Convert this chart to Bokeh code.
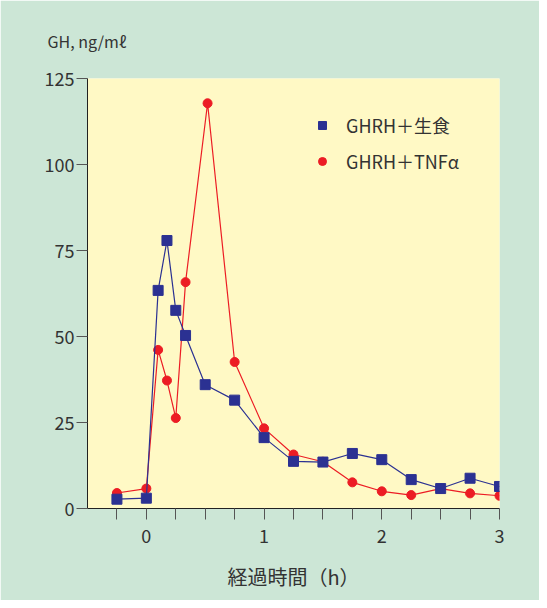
from bokeh.plotting import figure
from bokeh.models import FixedTicker, Legend, LegendItem, ColumnDataSource
from bokeh.embed import file_html
from bokeh.resources import INLINE

# Data (hours, GH ng/ml)
t_saline = [-0.25, 0, 0.1, 0.175, 0.25, 0.333, 0.5, 0.75, 1.0, 1.25, 1.5, 1.75, 2.0, 2.25, 2.5, 2.75, 3.0]
gh_saline = [2.7, 3.0, 63.4, 77.9, 57.6, 50.3, 36.0, 31.5, 20.6, 13.7, 13.5, 16.0, 14.2, 8.4, 5.8, 8.8, 6.4]
t_tnf = [-0.25, 0, 0.1, 0.175, 0.25, 0.333, 0.52, 0.75, 1.0, 1.25, 1.5, 1.75, 2.0, 2.25, 2.5, 2.75, 3.0]
gh_tnf = [4.5, 5.8, 46.1, 37.2, 26.3, 65.8, 117.8, 42.6, 23.3, 15.7, 13.6, 7.6, 5.0, 3.9, 5.8, 4.4, 3.7]

x_ticks = [-0.25, 0, 0.25, 0.5, 0.75, 1, 1.25, 1.5, 1.75, 2, 2.25, 2.5, 2.75, 3]
x_tick_labels = {-0.25: "", 0: "0", 0.25: "", 0.5: "", 0.75: "", 1: "1", 1.25: "", 1.5: "",
                 1.75: "", 2: "2", 2.25: "", 2.5: "", 2.75: "", 3: "3"}
y_ticks = [0, 25, 50, 75, 100, 125]

series_names = ["GHRH＋生食", "GHRH＋TNFα"]

BLUE = "#2b3192"
RED = "#ec1c24"
GREEN = "#cce6d6"
YELLOW = "#fff9c5"
TXT = "#333333"
FONT = "Noto Sans CJK JP"

p = figure(width=539, height=600, x_range=(-0.5, 3.0), y_range=(0, 125),
           output_backend="svg", toolbar_location=None,
           min_border_left=87, min_border_right=40, min_border_top=78, min_border_bottom=92)
p.border_fill_color = GREEN
p.background_fill_color = YELLOW
p.outline_line_color = None
p.grid.visible = False

p.title.text = "GH, ng/mℓ"
p.title.align = "left"
p.title.offset = -40
p.title.standoff = 52
p.title.text_font = FONT
p.title.text_font_size = "16px"
p.title.text_font_style = "normal"
p.title.text_color = TXT

# x axis
xa = p.xaxis[0]
xa.ticker = FixedTicker(ticks=x_ticks)
xa.major_label_overrides = x_tick_labels
xa.minor_tick_line_color = None
xa.major_tick_in = 0
xa.major_tick_out = 11
xa.major_tick_line_color = "#555555"
xa.axis_line_color = "#222222"
xa.major_label_standoff = 9
xa.major_label_text_font = FONT
xa.major_label_text_font_size = "18px"
xa.major_label_text_color = TXT
xa.axis_label = "経過時間（h）"
xa.axis_label_text_font = FONT
xa.axis_label_text_font_size = "20px"
xa.axis_label_text_font_style = "normal"
xa.axis_label_text_color = TXT
xa.axis_label_standoff = 16

ya = p.yaxis[0]
ya.ticker = FixedTicker(ticks=y_ticks)
ya.minor_tick_line_color = None
ya.major_tick_in = 0
ya.major_tick_out = 11
ya.major_tick_line_color = "#555555"
ya.axis_line_color = "#222222"
ya.major_label_standoff = 2
ya.major_label_text_font = FONT
ya.major_label_text_font_size = "18px"
ya.major_label_text_color = TXT

src_tnf = ColumnDataSource(dict(x=t_tnf, y=gh_tnf))
src_sal = ColumnDataSource(dict(x=t_saline, y=gh_saline))

p.line("x", "y", source=src_tnf, line_color=RED, line_width=1.2)
r_tnf = p.scatter("x", "y", source=src_tnf, marker="circle", size=9, fill_color=RED, line_color=RED)
p.line("x", "y", source=src_sal, line_color=BLUE, line_width=1.2)
r_sal = p.scatter("x", "y", source=src_sal, marker="square", size=10, fill_color=BLUE, line_color=BLUE)

legend = Legend(items=[LegendItem(label=series_names[0], renderers=[r_sal]),
                       LegendItem(label=series_names[1], renderers=[r_tnf])],
                location=(215, 324))
legend.background_fill_alpha = 0
legend.border_line_alpha = 0
legend.label_text_font = FONT
legend.label_text_font_size = "18px"
legend.label_text_color = TXT
legend.spacing = 10
legend.glyph_width = 20
legend.label_standoff = 14
p.add_layout(legend)

open("out.html", "w").write(file_html(p, INLINE))
